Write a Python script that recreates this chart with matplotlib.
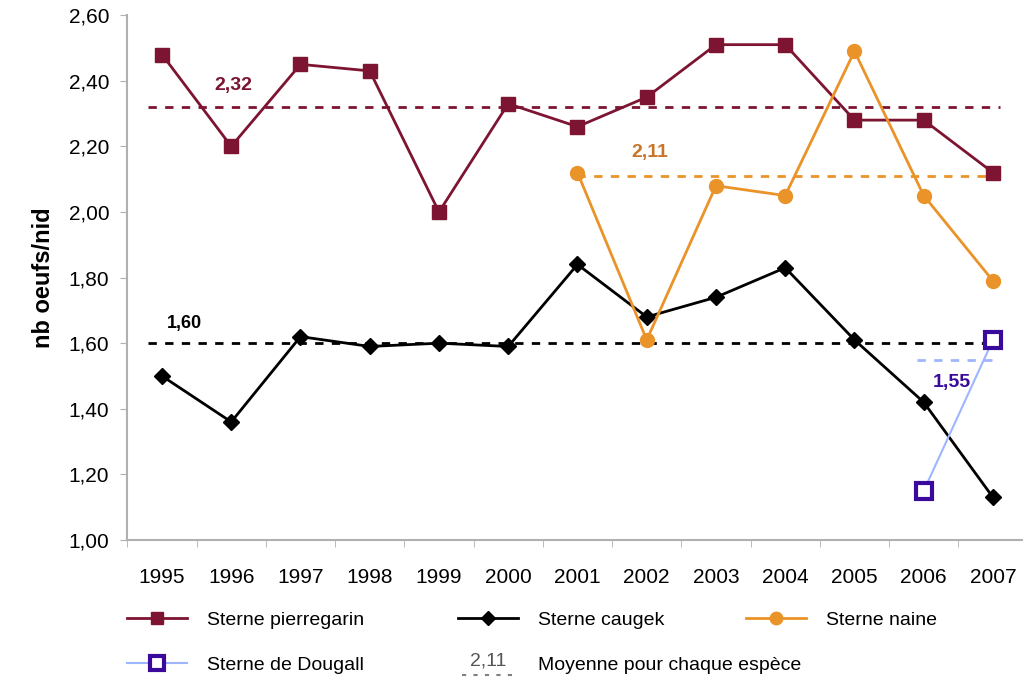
import matplotlib
matplotlib.use("Agg")
import matplotlib.pyplot as plt
from matplotlib.lines import Line2D
from matplotlib.text import Text
from matplotlib.legend_handler import HandlerBase

plt.rcParams['font.family'] = ['Liberation Sans', 'DejaVu Sans']

years = ["1995", "1996", "1997", "1998", "1999", "2000", "2001",
         "2002", "2003", "2004", "2005", "2006", "2007"]

pierregarin = [2.48, 2.20, 2.45, 2.43, 2.00, 2.33, 2.26, 2.35, 2.51, 2.51, 2.28, 2.28, 2.12]
caugek = [1.50, 1.36, 1.62, 1.59, 1.60, 1.59, 1.84, 1.68, 1.74, 1.83, 1.61, 1.42, 1.13]
naine_years = ["2001", "2002", "2003", "2004", "2005", "2006", "2007"]
naine = [2.12, 1.61, 2.08, 2.05, 2.49, 2.05, 1.79]
dougall_years = ["2006", "2007"]
dougall = [1.15, 1.61]

mean_pierregarin = 2.32
mean_caugek = 1.60
mean_naine = 2.11
mean_dougall = 1.55

c_pier = "#7d1431"
c_naine = "#ea9329"
c_naine_txt = "#c8752a"
c_doug = "#3a0a9c"
c_doug_line = "#9db6ff"
dash = (0, (3, 3))

xi = {y: i for i, y in enumerate(years)}

fig = plt.figure(figsize=(10.23, 6.79), dpi=100)
ax = fig.add_axes([0.1245, 0.2047, 0.88, 0.773])

l_pier, = ax.plot(range(len(years)), pierregarin, color=c_pier, lw=2, marker='s', ms=10,
                  mec=c_pier, mfc=c_pier, zorder=4)
l_caug, = ax.plot(range(len(years)), caugek, color='black', lw=2, marker='D', ms=8, zorder=4)
l_nain, = ax.plot([xi[y] for y in naine_years], naine, color=c_naine, lw=2, marker='o', ms=10,
                  zorder=4)
l_doug, = ax.plot([xi[y] for y in dougall_years], dougall, color=c_doug_line, lw=1.5, marker='s',
                  ms=11, mfc='white', mec=c_doug, mew=3, zorder=4)

# moyennes
ax.plot([-0.2, 12.1], [mean_pierregarin] * 2, ls=dash, color=c_pier, lw=2, zorder=2)
ax.plot([-0.2, 12.1], [mean_caugek] * 2, ls=dash, color='black', lw=2, zorder=2)
ax.plot([6, 12.1], [mean_naine] * 2, ls=dash, color=c_naine, lw=2, zorder=2)
ax.plot([10.9, 12.0], [mean_dougall] * 2, ls=dash, color=c_doug_line, lw=2, zorder=2)

ax.text(1.03, 2.385, "2,32", color=c_pier, fontsize=14, fontweight='bold', ha='center', va='center')
ax.text(7.05, 2.18, "2,11", color=c_naine_txt, fontsize=14, fontweight='bold', ha='center', va='center')
ax.text(0.33, 1.66, "1,60", color='black', fontsize=13, fontweight='bold', ha='center', va='center')
ax.text(11.4, 1.48, "1,55", color=c_doug, fontsize=14, fontweight='bold', ha='center', va='center')

ax.set_xlim(-0.5, 12.5)
ax.set_ylim(1.0, 2.6)
ax.set_yticks([1.0 + 0.2 * k for k in range(9)])
ax.set_yticklabels([f"{1.0 + 0.2 * k:.2f}".replace('.', ',') for k in range(9)])
ax.set_xticks(range(len(years)))
ax.set_xticklabels(years)
ax.set_xticks([i + 0.5 for i in range(-1, len(years))], minor=True)
ax.tick_params(axis='x', which='major', length=0, pad=20, labelsize=15)
ax.tick_params(axis='x', which='minor', length=5, color='#b0b0b0')
ax.tick_params(axis='y', length=5, color='#b0b0b0', labelsize=15, pad=8)
for s in ['top', 'right']:
    ax.spines[s].set_visible(False)
for s in ['left', 'bottom']:
    ax.spines[s].set_color('#b0b0b0')
    ax.spines[s].set_linewidth(1.5)
ax.set_ylabel("nb oeufs/nid", fontsize=17, fontweight='bold', labelpad=10)


class MeanHandler(HandlerBase):
    def create_artists(self, legend, orig_handle, xdescent, ydescent, width, height, fontsize, trans):
        cy = height / 2 - ydescent
        ln = Line2D([3, width - 3], [cy - 8.5, cy - 8.5], color='#808080', lw=1.5,
                    ls=(0, (2, 3.5)), transform=trans)
        tx = Text(width / 2, cy + 1.5, "2,11", color='#555555', fontsize=14,
                  ha='center', va='center', transform=trans)
        return [ln, tx]


mean_handle = Line2D([], [])
entries = [
    (l_pier, "Sterne pierregarin", 127, 620),
    (l_caug, "Sterne caugek", 458, 620),
    (l_nain, "Sterne naine", 746, 620),
    (l_doug, "Sterne de Dougall", 127, 665),
    (mean_handle, "Moyenne pour chaque espèce", 458, 665),
]
W, H = 1023, 679
for h, lab, px, py in entries:
    fig.legend([h], [lab], loc='center left', bbox_to_anchor=(px / W, 1 - py / H),
               frameon=False, fontsize=14, handlelength=3.1, handletextpad=1.0,
               borderpad=0, borderaxespad=0, markerscale=0.9,
               handler_map={mean_handle: MeanHandler()})

fig.savefig("out.png", dpi=100)
